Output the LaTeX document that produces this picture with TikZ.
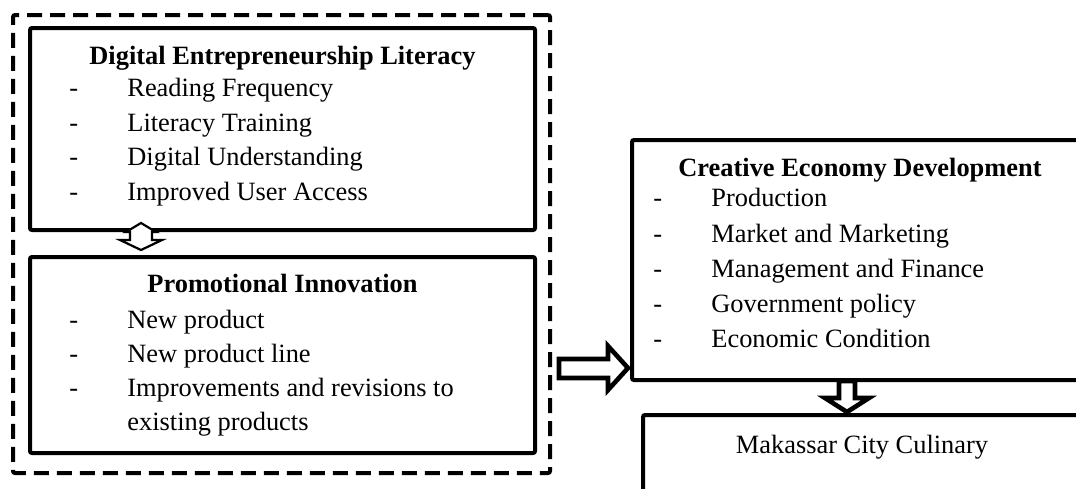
\documentclass[tikz,border=0pt]{standalone}
\usepackage{fontspec}
\setmainfont{Liberation Serif}
\usetikzlibrary{calc}
\begin{document}
\begin{tikzpicture}[x=0.5pt,y=-0.5pt,
  box/.style={draw, line width=2pt, rounded corners=1pt, inner sep=0pt},
  outerbox/.style={draw, line width=2pt, rounded corners=1pt, inner sep=0pt, dash pattern=on 7.5pt off 4pt},
  ttl/.style={font=\fontsize{13.2}{16}\selectfont\bfseries, anchor=base, inner sep=0pt},
  itm/.style={font=\fontsize{13.2}{16}\selectfont, anchor=base west, inner sep=0pt},
  plain/.style={font=\fontsize{13.2}{16}\selectfont, anchor=base, inner sep=0pt},
  arrthick/.style={draw, fill=white, line width=2.3pt, line join=miter},
  arrthin/.style={draw, fill=white, line width=1.1pt, line join=miter}
]
\useasboundingbox (0,0) rectangle (1076,488);
\clip (0,0) rectangle (1076,488);

% boxes
\node[outerbox, minimum width=268.5pt, minimum height=229pt] (outer) at (281.5,244) {};
\node[box, minimum width=252.5pt, minimum height=101pt] (del) at (282.5,129) {};
\node[box, minimum width=252.5pt, minimum height=98pt] (pi) at (282.5,355) {};
\node[box, minimum width=229pt, minimum height=120pt] (ced) at (861,260) {};
\node[box, minimum width=223.5pt, minimum height=47.5pt] (mak) at (866.5,462.5) {};

% Digital Entrepreneurship Literacy
\node[ttl] (delt) at (282.5,64) {Digital Entrepreneurship Literacy};
\node[itm] (deld1) at (69,96) {-};  \node[itm] (deli1) at (127,96) {Reading Frequency};
\node[itm] (deld2) at (69,131) {-}; \node[itm] (deli2) at (127,131) {Literacy Training};
\node[itm] (deld3) at (69,165) {-}; \node[itm] (deli3) at (127,165) {Digital Understanding};
\node[itm] (deld4) at (69,200) {-}; \node[itm] (deli4) at (127,200) {Improved User Access};

% Promotional Innovation
\node[ttl] (pit) at (282.5,292) {Promotional Innovation};
\node[itm] (pid1) at (69,328) {-}; \node[itm] (pii1) at (127,328) {New product};
\node[itm] (pid2) at (69,362) {-}; \node[itm] (pii2) at (127,362) {New product line};
\node[itm] (pid3) at (69,396) {-}; \node[itm] (pii3) at (127,396) {Improvements and revisions to};
\node[itm] (pii4) at (127,430) {existing products};

% Creative Economy Development
\node[ttl] (cedt) at (860,176) {Creative Economy Development};
\node[itm] (cedd1) at (653,206) {-}; \node[itm] (cedi1) at (711,206) {Production};
\node[itm] (cedd2) at (653,242) {-}; \node[itm] (cedi2) at (711,242) {Market and Marketing};
\node[itm] (cedd3) at (653,277) {-}; \node[itm] (cedi3) at (711,277) {Management and Finance};
\node[itm] (cedd4) at (653,312) {-}; \node[itm] (cedi4) at (711,312) {Government policy};
\node[itm] (cedd5) at (653,347) {-}; \node[itm] (cedi5) at (711,347) {Economic Condition};

% Makassar
\node[plain] (makt) at (862,453) {Makassar City Culinary};

% arrows
\draw[arrthin] (141,223) -- (156,232) -- (152,232) -- (152,240) -- (162,240) -- (141,250)
  -- (120,240) -- (130,240) -- (130,232) -- (126,232) -- cycle;
\draw[arrthick] (559,359) -- (608,359) -- (608,346) -- (628,368) -- (608,390) -- (608,378)
  -- (559,378) -- cycle;
\draw[arrthick] (839,381) -- (855,381) -- (855,398) -- (869,398) -- (847,412) -- (825,398)
  -- (839,398) -- cycle;
\end{tikzpicture}
\end{document}
